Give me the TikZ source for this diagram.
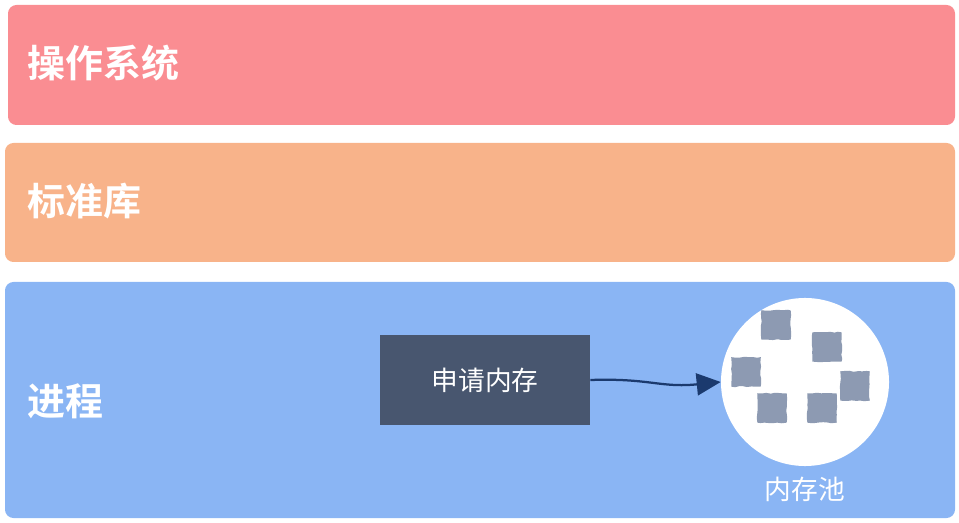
\documentclass[tikz,border=0pt]{standalone}
\usepackage{tikz}
\usetikzlibrary{positioning, arrows.meta, decorations.pathmorphing}
\usepackage{fontspec}
\newfontfamily\cjk{Noto Sans CJK SC}[BoldFont={Noto Sans CJK SC Bold}]
\usepackage{xcolor}
\definecolor{osred}{HTML}{FA8D92}
\definecolor{liborange}{HTML}{F8B38A}
\definecolor{procblue}{HTML}{8AB5F4}
\definecolor{reqslate}{HTML}{48566F}
\definecolor{arrownavy}{HTML}{1B3A6E}
\definecolor{blockgray}{HTML}{8D9AB2}

\tikzset{
	band/.style={rounded corners=6pt, draw=none},
	bandlabel/.style={anchor=west, inner sep=0pt, text=white, font=\cjk\bfseries\fontsize{27}{30}\selectfont},
	hand/.style={decorate, decoration={random steps, segment length=3pt, amplitude=0.4pt}},
	block/.style={fill=blockgray, minimum size=0.68cm, inner sep=0pt},
}

\begin{document}
\begin{tikzpicture}[x=0.025cm, y=-0.025cm]
		\useasboundingbox (0,0) rectangle (959,523);
		% three layers
		\fill[band, osred] (8,5) rectangle (955,125);
		\fill[band, liborange] (5,143) rectangle (955,262);
		\fill[band, procblue] (5,282) rectangle (955,518);
		\node[bandlabel] at (27,63) (os) {操作系统};
		\node[bandlabel] at (27,201) (lib) {标准库};
		\node[bandlabel] at (27,401) (proc) {进程};
		% request box and memory pool
		\node[fill=reqslate, minimum width=5.25cm, minimum height=2.25cm, text=white,
			font=\cjk\fontsize{19}{22}\selectfont] at (485,380) (req) {申请内存};
		\node[circle, fill=white, minimum size=4.2cm, inner sep=0pt] at (805,382) (pool) {};
		\node[text=white, font=\cjk\fontsize{19}{22}\selectfont, below=0.15cm of pool] (poollabel) {内存池};
		\foreach \x/\y [count=\i] in {776/325, 827/347, 746/372, 855/386, 772/408, 822/408}{
			\node[block] at (\x,\y) (blk\i) {};
			\draw[hand, blockgray, line width=1.2pt] (blk\i.south west) rectangle (blk\i.north east);
		}
		\draw[arrownavy, line width=1.6pt, -{Triangle[length=0.6cm, width=0.55cm]}]
			(req.east) .. controls (650,378) and (660,388) .. (pool.west);
	\end{tikzpicture}
\end{document}
